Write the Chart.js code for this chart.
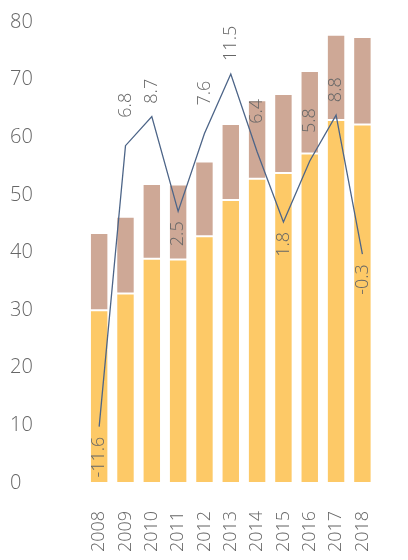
<!DOCTYPE html>
<html>
<head>
<meta charset="utf-8">
<script src="https://cdn.jsdelivr.net/npm/chart.js@4/dist/chart.umd.min.js"></script>
<style>
  html, body { margin: 0; padding: 0; overflow: hidden; background: #fff; }
  #wrap { width: 412px; height: 560px; position: relative; }
</style>
</head>
<body>
<div id="wrap"><canvas id="growthChart"></canvas></div>
<script>
const years = ['2008', '2009', '2010', '2011', '2012', '2013', '2014', '2015', '2016', '2017', '2018'];
const baseValues = [30.0, 32.9, 38.9, 38.8, 42.8, 49.1, 52.8, 53.8, 57.2, 63.0, 62.2];
const topValues = [13.4, 13.3, 13.0, 13.0, 13.0, 13.2, 13.6, 13.7, 14.3, 14.8, 15.2];
const growth = [-11.6, 6.8, 8.7, 2.5, 7.6, 11.5, 6.4, 1.8, 5.8, 8.8, -0.3];
const yTicks = [0, 10, 20, 30, 40, 50, 60, 70, 80];

const textGrey = '#666';

// rotated value labels for the line, valleys go under the point
const lineLabels = {
    id: 'lineLabels',
    afterDatasetsDraw(chart) {
        const meta = chart.getDatasetMeta(2);
        const ctx = chart.ctx;
        ctx.save();
        ctx.font = '300 18px "Open Sans", sans-serif';
        ctx.fillStyle = textGrey;
        ctx.textBaseline = 'middle';
        meta.data.forEach((pt, i) => {
            const v = growth[i];
            const prev = i > 0 ? growth[i - 1] : Infinity;
            const next = i < growth.length - 1 ? growth[i + 1] : Infinity;
            const prevP = i > 0 ? growth[i - 1] : -Infinity;
            const nextP = i < growth.length - 1 ? growth[i + 1] : -Infinity;
            const valley = v < prev && v < next;
            const peak = v > prevP && v > nextP;
            ctx.save();
            ctx.translate(pt.x, pt.y);
            ctx.rotate(-Math.PI / 2);
            if (valley) {
                ctx.textAlign = 'right';
                ctx.fillText(v.toFixed(1), -10, 0);
            } else {
                ctx.textAlign = 'left';
                ctx.fillText(v.toFixed(1), peak ? 13 : 28, 0);
            }
            ctx.restore();
        });
        ctx.restore();
    }
};

const ctx = document.getElementById('growthChart').getContext('2d');
const growthChart = new Chart(ctx, {
    type: 'bar',
    data: {
        labels: years,
        datasets: [{
            data: baseValues,
            backgroundColor: '#fdc967',
            borderColor: 'rgba(255,255,255,0.4)',
            borderWidth: 1,
            borderSkipped: false,
            order: 1
        }, {
            data: topValues,
            backgroundColor: '#cea896',
            borderColor: 'rgba(255,255,255,0.4)',
            borderWidth: 1,
            borderSkipped: false,
            order: 2
        }, {
            type: 'line',
            data: growth,
            yAxisID: 'y2',
            borderColor: '#4d6588',
            borderWidth: 1.3,
            pointRadius: 0,
            tension: 0,
            order: 0
        }]
    },
    options: {
        responsive: true,
        maintainAspectRatio: false,
        animation: false,
        layout: { padding: { left: 10, top: 22, right: 0, bottom: 0 } },
        datasets: {
            bar: { categoryPercentage: 1, barPercentage: 0.7 }
        },
        plugins: {
            legend: { display: false },
            tooltip: { enabled: false }
        },
        scales: {
            x: {
                stacked: true,
                grid: { display: false, drawTicks: false },
                border: { display: false },
                ticks: {
                    color: textGrey,
                    font: { family: '"Open Sans", sans-serif', size: 18, weight: 300 },
                    minRotation: 90,
                    maxRotation: 90,
                    padding: 28
                },
                afterFit(scale) { scale.height = 77; }
            },
            y: {
                stacked: true,
                min: 0,
                max: 80,
                grid: { display: false, drawTicks: false },
                border: { display: false },
                afterBuildTicks(scale) { scale.ticks = yTicks.map(v => ({ value: v })); },
                ticks: {
                    color: textGrey,
                    font: { family: '"Open Sans", sans-serif', size: 20, weight: 300 },
                    crossAlign: 'far',
                    padding: 0
                },
                afterFit(scale) { scale.width = 76; }
            },
            y2: {
                display: false,
                min: -15.29,
                max: 14.9
            }
        }
    },
    plugins: [lineLabels]
});
</script>
</body>
</html>
